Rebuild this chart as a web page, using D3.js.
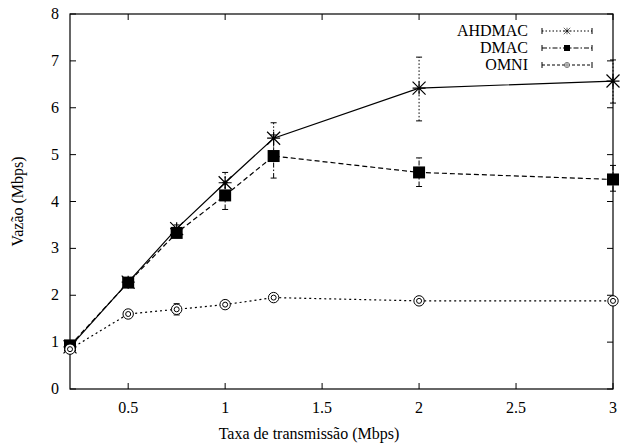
<!DOCTYPE html>
<html>
<head>
<meta charset="utf-8">
<style>
 body { margin: 0; background: #fff; }
 svg text, text {
  font-family: Liberation Serif, Tinos, Times New Roman, serif !important;
  font-size: 16px !important;
  fill: #000;
 }
</style>
</head>
<body>
<script src="https://cdn.jsdelivr.net/npm/d3@7/dist/d3.min.js"></script>
<script>
var rates    = [0.2, 0.5, 0.75, 1, 1.25, 2, 3];
var ahdmac   = [0.90, 2.28, 3.42, 4.40, 5.35, 6.42, 6.57];
var ahdmacLo = [0.85, 2.20, 3.34, 4.20, 5.05, 5.72, 6.10];
var ahdmacHi = [0.95, 2.36, 3.50, 4.62, 5.68, 7.08, 7.02];
var dmac     = [0.93, 2.27, 3.33, 4.13, 4.97, 4.62, 4.47];
var dmacLo   = [0.88, 2.20, 3.25, 3.83, 4.50, 4.32, 4.22];
var dmacHi   = [0.98, 2.33, 3.42, 4.40, 5.42, 4.93, 4.77];
var omni     = [0.85, 1.60, 1.70, 1.80, 1.95, 1.88, 1.88];
var omniLo   = [0.80, 1.55, 1.58, 1.72, 1.90, 1.83, 1.83];
var omniHi   = [0.90, 1.65, 1.82, 1.88, 2.00, 1.93, 1.93];
var xTicks = [0.5, 1, 1.5, 2, 2.5, 3];
var yTicks = [0, 1, 2, 3, 4, 5, 6, 7, 8];
var seriesNames = ["AHDMAC", "DMAC", "OMNI"];

(function(){
  var width = 624, height = 444;
  var left = 70, right = 613, top = 14, bottom = 389;

  var x = d3.scaleLinear().domain([0.2, 3]).range([left, right]);
  var y = d3.scaleLinear().domain([0, 8]).range([bottom, top]);

  var svg = d3.select("body").append("svg")
      .attr("width", width).attr("height", height);

  function label(sel, tx, ty, anchor, str) {
    return sel.append("text").attr("x", tx).attr("y", ty)
      .attr("font-family", "Liberation Serif").attr("font-size", 16)
      .attr("text-anchor", anchor).text(str);
  }

  function seg(sel, x1, y1, x2, y2, w, dash) {
    return sel.append("line").attr("x1", x1).attr("y1", y1).attr("x2", x2).attr("y2", y2)
      .attr("stroke", "#000").attr("stroke-width", w || 1).attr("stroke-dasharray", dash || null);
  }

  // ticks (gnuplot style: inward, mirrored)
  var tl = 6;
  var g = svg.append("g");
  xTicks.forEach(function(t){
    seg(g, x(t), bottom, x(t), bottom - tl);
    seg(g, x(t), top, x(t), top + tl);
    label(g, x(t), bottom + 24, "middle", t);
  });
  yTicks.forEach(function(t){
    seg(g, left, y(t), left + tl, y(t));
    seg(g, right, y(t), right - tl, y(t));
    label(g, left - 11, y(t) + 5, "end", t);
  });

  svg.append("rect")
    .attr("x", left).attr("y", top).attr("width", right - left).attr("height", bottom - top)
    .attr("fill", "none").attr("stroke", "#000").attr("stroke-width", 1.2);

  label(svg, 309, 439, "middle", "Taxa de transmissão (Mbps)");
  label(svg, 0, 0, "middle", "Vazão (Mbps)")
    .attr("transform", "translate(23," + ((top + bottom) / 2) + ") rotate(-90)");

  var series = [
    {name: seriesNames[0], v: ahdmac, lo: ahdmacLo, hi: ahdmacHi, line: null, err: "1.5,2", mark: "star"},
    {name: seriesNames[1], v: dmac, lo: dmacLo, hi: dmacHi, line: "5,3", err: "5,2,1.5,2", mark: "square"},
    {name: seriesNames[2], v: omni, lo: omniLo, hi: omniHi, line: "2,3", err: "3,2", mark: "circle"}
  ];

  var line = d3.line().x(function(d){ return x(d[0]); }).y(function(d){ return y(d[1]); });

  function marker(sel, type, cx, cy) {
    if (type === "star") {
      var r = 6.5;
      var p = "M" + (cx - r) + "," + cy + "H" + (cx + r) +
              "M" + cx + "," + (cy - r) + "V" + (cy + r) +
              "M" + (cx - r) + "," + (cy - r) + "L" + (cx + r) + "," + (cy + r) +
              "M" + (cx - r) + "," + (cy + r) + "L" + (cx + r) + "," + (cy - r);
      sel.append("path").attr("d", p).attr("stroke", "#000").attr("stroke-width", 1.2).attr("fill", "none");
    } else if (type === "square") {
      sel.append("rect").attr("x", cx - 6).attr("y", cy - 6).attr("width", 12).attr("height", 12).attr("fill", "#000");
    } else {
      sel.append("circle").attr("cx", cx).attr("cy", cy).attr("r", 5.2)
        .attr("fill", "#fff").attr("stroke", "#000").attr("stroke-width", 1);
      sel.append("circle").attr("cx", cx).attr("cy", cy).attr("r", 2.5)
        .attr("fill", "none").attr("stroke", "#000").attr("stroke-width", 1);
    }
  }

  series.forEach(function(s){
    var pts = rates.map(function(r, i){ return [r, s.v[i]]; });
    var sg = svg.append("g");
    // error bars
    rates.forEach(function(r, i){
      seg(sg, x(r), y(s.lo[i]), x(r), y(s.hi[i]), 1, s.err);
      seg(sg, x(r) - 3, y(s.lo[i]), x(r) + 3, y(s.lo[i]));
      seg(sg, x(r) - 3, y(s.hi[i]), x(r) + 3, y(s.hi[i]));
    });
    sg.append("path").datum(pts).attr("d", line)
      .attr("fill", "none").attr("stroke", "#000").attr("stroke-width", 1.2)
      .attr("stroke-dasharray", s.line);
    pts.forEach(function(p){ marker(sg, s.mark, x(p[0]), y(p[1])); });
  });

  // legend
  var lg = svg.append("g");
  series.forEach(function(s, i){
    var ly = 31 + i * 17;
    label(lg, 528, ly + 5, "end", s.name);
    seg(lg, 542, ly, 592, ly, 1, s.err);
    seg(lg, 542, ly - 3, 542, ly + 3);
    seg(lg, 592, ly - 3, 592, ly + 3);
    var mk = lg.append("g").attr("transform", "translate(567," + ly + ") scale(0.5) translate(-567," + (-ly) + ")");
    marker(mk, s.mark, 567, ly);
  });
})();
</script>
</body>
</html>
